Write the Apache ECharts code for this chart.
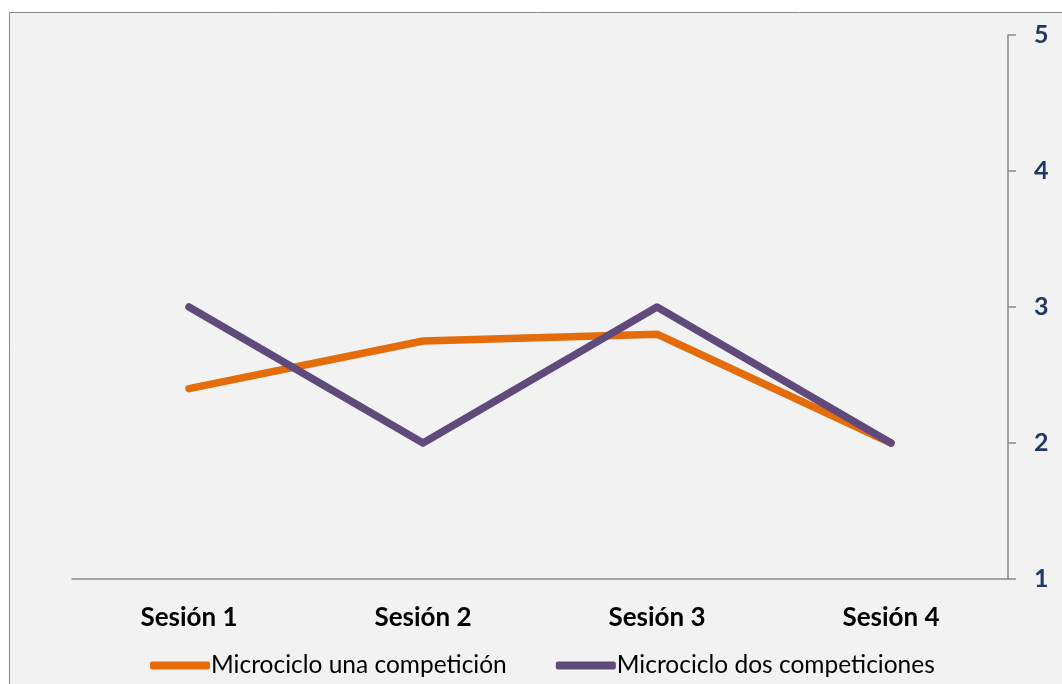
<!DOCTYPE html>
<html>
<head>
<meta charset="utf-8">
<script src="https://cdn.jsdelivr.net/npm/echarts@6/dist/echarts.min.js"></script>
<style>
  html, body { margin: 0; padding: 0; background: #ffffff; }
  #chart { width: 1062px; height: 684px; }
</style>
</head>
<body>
<div id="chart"></div>
<script>
// Sessions on the category axis
const sessions = ['Sesión 1', 'Sesión 2', 'Sesión 3', 'Sesión 4'];
// Series names
const seriesNames = ['Microciclo una competición', 'Microciclo dos competiciones'];
// Values per session
const unaCompeticion = [2.4, 2.75, 2.8, 2.0];
const dosCompeticiones = [3, 2, 3, 2];
// Value axis range
const yMin = 1, yMax = 5, yStep = 1;

const colors = ['#e46c0a', '#604a7b'];
const font = 'Lato, "Open Sans", sans-serif';

const chart = echarts.init(document.getElementById('chart'));
chart.setOption({
  backgroundColor: '#ffffff',
  animation: false,
  graphic: [{
    type: 'rect',
    z: -10,
    silent: true,
    shape: { x: 9.5, y: 12.5, width: 1100, height: 700 },
    style: { fill: '#f2f2f2', stroke: '#898989', lineWidth: 1 }
  }],
  grid: { left: 72, right: 54, top: 35, bottom: 105, containLabel: false },
  legend: {
    left: 145,
    top: 648,
    itemWidth: 60,
    itemHeight: 8,
    itemGap: 49,
    icon: 'roundRect',
    textStyle: { fontFamily: font, fontSize: 24.5, color: '#000000', padding: [0, 0, 0, -4] },
    data: seriesNames
  },
  xAxis: {
    type: 'category',
    data: sessions,
    boundaryGap: true,
    axisLine: { show: true, lineStyle: { color: '#898989', width: 1.5 } },
    axisTick: { show: false },
    axisLabel: { fontFamily: font, fontSize: 26, fontWeight: 'bold', color: '#000000', margin: 26 }
  },
  yAxis: {
    type: 'value',
    position: 'right',
    min: yMin,
    max: yMax,
    interval: yStep,
    splitLine: { show: false },
    axisLine: { show: true, lineStyle: { color: '#898989', width: 1.5 } },
    axisTick: { show: true, inside: false, length: 8, lineStyle: { color: '#898989', width: 1.5 } },
    axisLabel: { fontFamily: font, fontSize: 25, fontWeight: 'bold', color: '#1f3864', margin: 26 }
  },
  series: [
    {
      name: seriesNames[0],
      type: 'line',
      data: unaCompeticion,
      color: colors[0],
      symbol: 'none',
      lineStyle: { width: 7.5, cap: 'round', join: 'round' },
      z: 2
    },
    {
      name: seriesNames[1],
      type: 'line',
      data: dosCompeticiones,
      color: colors[1],
      symbol: 'none',
      lineStyle: { width: 7.5, cap: 'round', join: 'round' },
      z: 3
    }
  ]
});
</script>
</body>
</html>
